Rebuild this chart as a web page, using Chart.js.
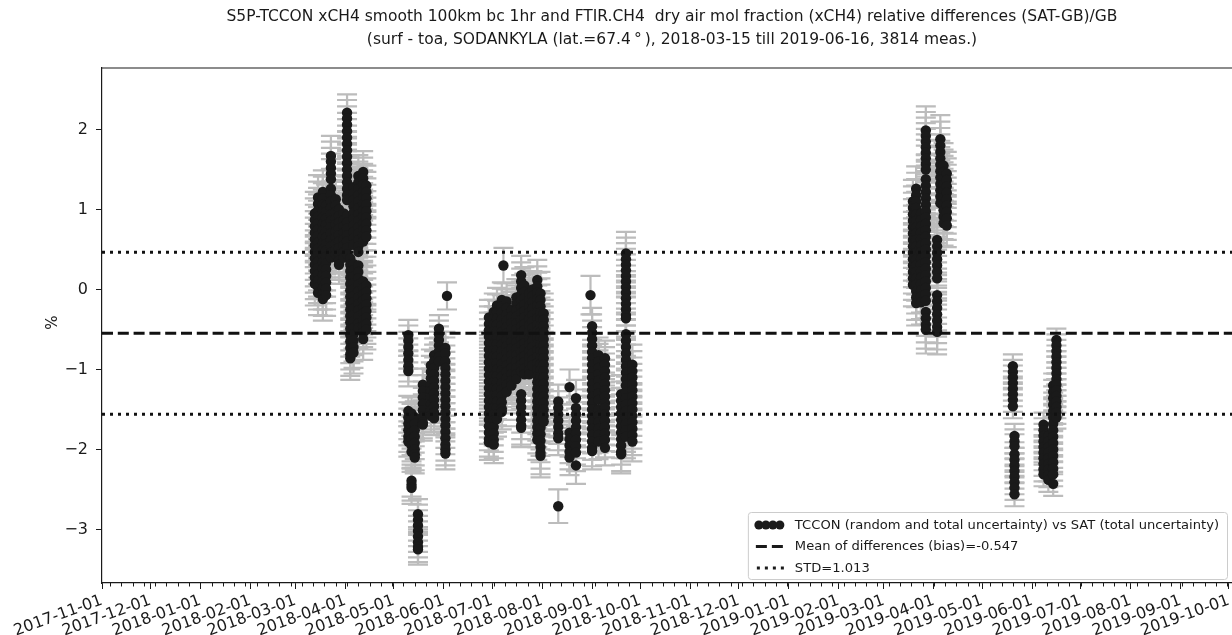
<!DOCTYPE html>
<html>
<head>
<meta charset="utf-8">
<script src="https://cdn.jsdelivr.net/npm/chart.js@4.4.0/dist/chart.umd.min.js"></script>
<style>
html,body{margin:0;padding:0;background:#ffffff;}
canvas{display:block;}
</style>
</head>
<body>
<canvas id="c" width="1232" height="635"></canvas>
<script>
// ---------------- data ----------------
const titleLines = [
  'S5P-TCCON xCH4 smooth 100km bc 1hr and FTIR.CH4  dry air mol fraction (xCH4) relative differences (SAT-GB)/GB',
  '(surf - toa, SODANKYLA (lat.=67.4\u2009°\u2009), 2018-03-15 till 2019-06-16, 3814 meas.)'
];
const yAxisTitle = '%';
const xTickLabels = ['2017-11-01','2017-12-01','2018-01-01','2018-02-01','2018-03-01','2018-04-01',
  '2018-05-01','2018-06-01','2018-07-01','2018-08-01','2018-09-01','2018-10-01','2018-11-01',
  '2018-12-01','2019-01-01','2019-02-01','2019-03-01','2019-04-01','2019-05-01','2019-06-01',
  '2019-07-01','2019-08-01','2019-09-01','2019-10-01'];
const yTickValues = [-3,-2,-1,0,1,2];
const yTickLabels = ['\u22123','\u22122','\u22121','0','1','2'];
const biasValue = -0.547;
const stdValue = 1.013;
const stdUpperValue = 0.466;
const stdLowerValue = -1.56;
const legendLabels = [
  'TCCON (random and total uncertainty) vs SAT (total uncertainty)',
  'Mean of differences (bias)=-0.547',
  'STD=1.013'
];

// observation dates (one entry per day column) and the values plotted on that day
const obsDates = [
  '2018-03-13','2018-03-15','2018-03-18','2018-03-20','2018-03-23','2018-03-26','2018-03-28',
  '2018-03-31','2018-04-02','2018-04-04','2018-04-06','2018-04-09','2018-04-12','2018-04-14',
  '2018-05-10','2018-05-12','2018-05-14','2018-05-16','2018-05-19','2018-05-24','2018-05-26',
  '2018-05-29','2018-06-02','2018-06-03',
  '2018-06-29','2018-07-02','2018-07-04','2018-07-07','2018-07-08','2018-07-10','2018-07-13',
  '2018-07-16','2018-07-19','2018-07-21','2018-07-24','2018-07-26','2018-07-29','2018-07-31',
  '2018-08-02',
  '2018-08-11','2018-08-18','2018-08-22','2018-08-31','2018-09-01','2018-09-05','2018-09-09',
  '2018-09-19','2018-09-22','2018-09-26',
  '2019-03-19','2019-03-21','2019-03-24','2019-03-27','2019-04-03','2019-04-05','2019-04-07',
  '2019-04-09',
  '2019-05-20','2019-05-21',
  '2019-06-08','2019-06-11','2019-06-14','2019-06-16'
];
const obsValues = [
  [0.95,0.87,0.79,0.71,0.63,0.55,0.47,0.39,0.31,0.23,0.15,0.07],
  [1.15,1.07,0.99,0.91,0.83,0.75,0.67,0.59,0.51,0.43,0.35,0.27,0.19,0.11,0.03,-0.04],
  [1.22,1.14,1.06,0.98,0.9,0.82,0.74,0.66,0.58,0.5,0.42,0.34,0.26,0.18,0.1,0.02,-0.06,-0.12],
  [1.05,0.97,0.89,0.81,0.73,0.65,0.57,0.49,0.41,0.33,0.25,0.17,0.09,0.01,-0.07],
  [1.67,1.6,1.52,1.45,1.38,1.26,1.18,1.1,1.02,0.94,0.86,0.78,0.7,0.62,0.54,0.46,0.4],
  [1.13,1.05,0.97,0.89,0.81,0.73,0.65,0.57,0.5,0.44],
  [1.0,0.92,0.84,0.76,0.68,0.6,0.52,0.44,0.36,0.31],
  [0.95,0.87,0.79,0.71,0.63,0.55,0.47,0.4],
  [2.21,2.14,2.06,1.98,1.9,1.82,1.74,1.66,1.58,1.5,1.42,1.34,1.26,1.18,1.12,0.92,0.84,0.76,0.68,0.6,0.52,0.44],
  [0.39,0.31,0.23,0.15,0.07,-0.01,-0.09,-0.17,-0.25,-0.33,-0.41,-0.49,-0.57,-0.65,-0.73,-0.81,-0.86],
  [1.28,1.2,1.12,1.04,0.96,0.88,0.8,0.72,0.64,0.56,0.32,0.24,0.16,0.08,0,-0.08,-0.16,-0.24,-0.32,-0.4,-0.48,-0.56,-0.64,-0.72,-0.79],
  [1.42,1.34,1.26,1.18,1.1,1.02,0.94,0.86,0.78,0.7,0.62,0.54,0.47,0.3,0.22,0.14,0.06,-0.02,-0.1,-0.18,-0.26,-0.34,-0.42,-0.48],
  [1.47,1.39,1.31,1.23,1.15,1.07,0.99,0.91,0.83,0.75,0.67,0.6,0.1,0.02,-0.06,-0.14,-0.22,-0.3,-0.38,-0.46,-0.54,-0.62],
  [1.3,1.22,1.14,1.06,0.98,0.9,0.82,0.74,0.66,0.05,-0.03,-0.11,-0.19,-0.27,-0.35,-0.43,-0.5],
  [-0.57,-0.64,-0.72,-0.8,-0.88,-0.96,-1.02,-1.52,-1.6,-1.68,-1.76,-1.84,-1.9],
  [-1.55,-1.63,-1.71,-1.79,-1.87,-1.95,-2.03,-2.39,-2.44,-2.48],
  [-1.6,-1.68,-1.76,-1.84,-1.92,-2.0,-2.06,-2.1],
  [-2.81,-2.88,-2.95,-3.02,-3.09,-3.16,-3.22,-3.25],
  [-1.19,-1.27,-1.35,-1.43,-1.51,-1.59,-1.66,-1.69],
  [-0.95,-1.03,-1.11,-1.19,-1.27,-1.35,-1.43,-1.51,-1.58],
  [-0.82,-0.9,-0.98,-1.06,-1.14,-1.22,-1.3,-1.38,-1.46,-1.54,-1.61],
  [-0.49,-0.56,-0.63,-0.7,-0.77,-0.84,-0.9],
  [-0.73,-0.8,-0.9,-0.98,-1.06,-1.14,-1.22,-1.3,-1.38,-1.46,-1.54,-1.62,-1.7,-1.78,-1.86,-1.94,-2.0,-2.05],
  [-0.08],
  [-0.35,-0.43,-0.51,-0.59,-0.67,-0.75,-0.83,-0.91,-0.99,-1.07,-1.15,-1.23,-1.31,-1.39,-1.47,-1.55,-1.63,-1.71,-1.79,-1.87,-1.91],
  [-0.28,-0.36,-0.44,-0.52,-0.6,-0.68,-0.76,-0.84,-0.92,-1.0,-1.08,-1.16,-1.24,-1.32,-1.4,-1.48,-1.56,-1.64,-1.72,-1.8,-1.88,-1.94],
  [-0.2,-0.28,-0.36,-0.44,-0.52,-0.6,-0.68,-0.76,-0.84,-0.92,-1.0,-1.08,-1.16,-1.24,-1.32,-1.4,-1.48,-1.56,-1.62],
  [-0.13,-0.21,-0.29,-0.37,-0.45,-0.53,-0.61,-0.69,-0.77,-0.85,-0.93,-1.01,-1.09,-1.17,-1.25,-1.33,-1.41,-1.49,-1.53],
  [0.30],
  [-0.15,-0.23,-0.31,-0.39,-0.47,-0.55,-0.63,-0.71,-0.79,-0.87,-0.95,-1.03,-1.11,-1.19,-1.28],
  [-0.26,-0.34,-0.42,-0.5,-0.58,-0.66,-0.74,-0.82,-0.9,-0.98,-1.06,-1.14,-1.2],
  [-0.1,-0.18,-0.26,-0.34,-0.42,-0.5,-0.58,-0.66,-0.74,-0.82,-0.9,-0.98,-1.06,-1.12],
  [0.18,0.1,0.02,-0.06,-0.14,-0.22,-0.3,-0.38,-0.46,-0.54,-0.62,-0.7,-0.78,-0.86,-0.94,-1.02,-1.31,-1.39,-1.47,-1.55,-1.63,-1.7,-1.73],
  [0.05,-0.03,-0.11,-0.19,-0.27,-0.35,-0.43,-0.51,-0.59,-0.67,-0.75,-0.83,-0.91,-0.99,-1.06],
  [-0.05,-0.13,-0.21,-0.29,-0.37,-0.45,-0.53,-0.61,-0.69,-0.77,-0.85,-0.93,-1.01,-1.06],
  [0.0,-0.08,-0.16,-0.24,-0.32,-0.4,-0.48,-0.56,-0.64,-0.72,-0.8,-0.88,-0.95],
  [0.12,0.04,-0.04,-0.12,-0.2,-0.28,-0.36,-0.44,-0.52,-0.6,-0.68,-0.76,-0.84,-0.92,-1.0,-1.08,-1.16,-1.24,-1.32,-1.4,-1.48,-1.56,-1.64,-1.72,-1.8,-1.88],
  [-0.05,-0.13,-0.21,-0.29,-0.37,-0.45,-0.53,-0.61,-0.69,-0.77,-0.85,-0.93,-1.01,-1.09,-1.17,-1.25,-1.33,-1.41,-1.49,-1.57,-1.65,-1.73,-1.81,-1.89,-1.97,-2.04,-2.08],
  [-0.3,-0.38,-0.46,-0.54,-0.62,-0.7,-0.78,-0.86,-0.94,-1.02,-1.1,-1.18,-1.26,-1.34,-1.42,-1.5,-1.58,-1.65],
  [-1.4,-1.48,-1.56,-1.64,-1.72,-1.8,-1.86,-2.71],
  [-1.22,-1.79,-1.87,-1.95,-2.03,-2.1],
  [-1.36,-1.48,-1.56,-1.64,-1.72,-1.8,-1.88,-1.96,-2.04,-2.2],
  [-0.07],
  [-0.46,-0.54,-0.62,-0.7,-0.78,-0.86,-0.94,-1.02,-1.1,-1.18,-1.26,-1.34,-1.42,-1.5,-1.58,-1.66,-1.74,-1.82,-1.9,-1.98,-2.02],
  [-0.82,-0.9,-0.98,-1.06,-1.14,-1.22,-1.3,-1.38,-1.5,-1.58,-1.66,-1.74,-1.82,-1.9],
  [-0.86,-0.94,-1.02,-1.1,-1.18,-1.26,-1.34,-1.42,-1.48,-1.56,-1.64,-1.72,-1.8,-1.88,-1.98],
  [-1.31,-1.39,-1.47,-1.55,-1.63,-1.71,-1.79,-1.87,-1.95,-2.03,-2.06],
  [0.45,0.38,0.31,0.24,0.17,0.1,0.03,-0.04,-0.11,-0.18,-0.25,-0.32,-0.36,-0.56,-0.64,-0.72,-0.8,-0.88,-0.96,-1.04,-1.12,-1.2,-1.28,-1.36,-1.44,-1.52,-1.6,-1.68,-1.76,-1.84],
  [-0.94,-1.02,-1.1,-1.18,-1.26,-1.34,-1.42,-1.5,-1.58,-1.66,-1.74,-1.82,-1.9],
  [1.1,1.02,0.94,0.86,0.78,0.7,0.62,0.54,0.46,0.38,0.3,0.22,0.14,0.06],
  [1.26,1.18,1.1,1.02,0.94,0.86,0.78,0.7,0.62,0.54,0.46,0.38,0.3,0.22,0.14,0.06,-0.02,-0.1,-0.17],
  [0.95,0.87,0.79,0.71,0.63,0.55,0.47,0.39,0.31,0.23,0.15,0.07,-0.01,-0.09,-0.16],
  [1.99,1.92,1.85,1.78,1.71,1.64,1.57,1.5,1.38,1.3,1.22,1.14,1.06,0.98,0.9,0.82,0.74,0.66,0.58,0.5,0.42,0.34,0.26,0.18,0.1,0.02,-0.06,-0.14,-0.28,-0.36,-0.44,-0.5],
  [0.62,0.54,0.46,0.38,0.3,0.22,0.14,-0.07,-0.15,-0.23,-0.31,-0.39,-0.47,-0.53],
  [1.88,1.8,1.72,1.64,1.56,1.48,1.4,1.32,1.24,1.16,1.08],
  [1.55,1.47,1.39,1.31,1.23,1.15,1.07,0.99,0.91,0.83],
  [1.45,1.37,1.29,1.21,1.13,1.05,0.97,0.89,0.8],
  [-0.96,-1.03,-1.1,-1.17,-1.24,-1.31,-1.38,-1.46],
  [-1.83,-1.9,-1.96,-2.06,-2.13,-2.2,-2.27,-2.34,-2.41,-2.48,-2.56],
  [-1.69,-1.76,-1.83,-1.9,-1.97,-2.04,-2.11,-2.18,-2.25,-2.31],
  [-1.83,-1.9,-1.97,-2.04,-2.11,-2.18,-2.25,-2.32,-2.38],
  [-1.2,-1.28,-1.36,-1.44,-1.52,-1.6,-1.68,-1.76,-1.84,-1.92,-2.0,-2.08,-2.16,-2.24,-2.31,-2.43],
  [-0.63,-0.7,-0.77,-0.84,-0.91,-0.98,-1.05,-1.12,-1.19,-1.26,-1.33,-1.4,-1.47,-1.54,-1.6]
];
// total-uncertainty half-length of the error bars for each day column (%)
const obsErrors = [
  0.27,0.28,0.27,0.26,0.25,0.24,0.24,0.25,0.23,0.27,0.26,0.26,0.26,0.25,
  0.19,0.20,0.20,0.19,0.20,0.20,0.21,0.17,0.20,0.17,
  0.22,0.23,0.22,0.22,0.22,0.23,0.23,0.23,0.24,0.23,0.24,0.23,0.25,0.27,0.25,
  0.21,0.22,0.23,0.24,0.23,0.22,0.22,
  0.24,0.27,0.25,
  0.27,0.28,0.28,0.30,0.28,0.30,0.28,0.27,
  0.15,0.15,
  0.15,0.15,0.15,0.14
];
const xStart = '2017-11-01';
const xEnd = '2019-10-02T22:00:00Z';

// ---------------- build chart ----------------
const toTime = s => Date.parse(s.length === 10 ? s + 'T00:00:00Z' : s);
const xMin = toTime(xStart), xMax = toTime(xEnd);
const xTickValues = xTickLabels.map(toTime);
const points = [];
obsDates.forEach((d, i) => {
  obsValues[i].forEach(v => points.push({ x: toTime(d), y: v, err: obsErrors[i] }));
});

const FONT = 'DejaVu Sans';
Chart.defaults.font.family = FONT;
Chart.defaults.color = '#1a1a1a';

const errorBarPlugin = {
  id: 'errorBars',
  beforeDatasetsDraw(chart) {
    const ctx = chart.ctx, xs = chart.scales.x, ys = chart.scales.y, a = chart.chartArea;
    ctx.save();
    ctx.beginPath(); ctx.rect(a.left, a.top, a.right - a.left, a.bottom - a.top); ctx.clip();
    ctx.strokeStyle = '#bcbcbc';
    ctx.lineWidth = 2.2;
    const cap = 10;
    points.forEach(p => {
      const px = xs.getPixelForValue(p.x);
      const y1 = ys.getPixelForValue(p.y + p.err);
      const y2 = ys.getPixelForValue(p.y - p.err);
      ctx.beginPath();
      ctx.moveTo(px, y1); ctx.lineTo(px, y2);
      ctx.moveTo(px - cap, y1); ctx.lineTo(px + cap, y1);
      ctx.moveTo(px - cap, y2); ctx.lineTo(px + cap, y2);
      ctx.stroke();
    });
    ctx.restore();
  }
};

const decorPlugin = {
  id: 'decor',
  afterDraw(chart) {
    const ctx = chart.ctx, a = chart.chartArea, xs = chart.scales.x;
    ctx.save();
    // top spine
    ctx.strokeStyle = '#1a1a1a'; ctx.lineWidth = 1.2;
    ctx.beginPath(); ctx.moveTo(a.left, a.top); ctx.lineTo(a.right, a.top); ctx.stroke();
    // weekly minor ticks (Mondays)
    ctx.lineWidth = 1;
    let t = toTime('2017-11-06');
    while (t <= xMax) {
      const px = Math.round(xs.getPixelForValue(t)) + 0.5;
      ctx.beginPath(); ctx.moveTo(px, a.bottom); ctx.lineTo(px, a.bottom + 3.5); ctx.stroke();
      t += 7 * 86400000;
    }
    // title
    ctx.fillStyle = '#1a1a1a';
    ctx.font = '15.5px "' + FONT + '"';
    ctx.textAlign = 'center'; ctx.textBaseline = 'middle';
    const tcx = 672;
    ctx.fillText(titleLines[0], tcx, 17);
    ctx.fillText(titleLines[1], tcx, 40);
    // y axis title
    ctx.save();
    ctx.translate(53, (a.top + a.bottom) / 2 - 3);
    ctx.rotate(-Math.PI / 2);
    ctx.font = '15px "' + FONT + '"';
    ctx.fillText(yAxisTitle, 0, 0);
    ctx.restore();
    // legend
    ctx.font = '13.1px "' + FONT + '"';
    const tw = Math.max(...legendLabels.map(s => ctx.measureText(s).width));
    const bw = 47 + tw + 8, bh = 67;
    const bx = a.right - 5 - bw, by = a.bottom - 4 - bh;
    ctx.fillStyle = 'rgba(255,255,255,0.85)';
    ctx.strokeStyle = '#cccccc'; ctx.lineWidth = 1;
    ctx.beginPath();
    if (ctx.roundRect) ctx.roundRect(bx + 0.5, by + 0.5, bw, bh, 3); else ctx.rect(bx + 0.5, by + 0.5, bw, bh);
    ctx.fill(); ctx.stroke();
    const rows = [by + 13, by + 34.5, by + 56];
    ctx.fillStyle = '#1a1a1a';
    [11, 18, 25, 32].forEach(dx => {
      ctx.beginPath(); ctx.arc(bx + dx, rows[0], 4.5, 0, Math.PI * 2); ctx.fill();
    });
    ctx.strokeStyle = '#1a1a1a'; ctx.lineWidth = 3;
    ctx.setLineDash([11, 5]);
    ctx.beginPath(); ctx.moveTo(bx + 8, rows[1]); ctx.lineTo(bx + 36, rows[1]); ctx.stroke();
    ctx.setLineDash([3, 5]);
    ctx.beginPath(); ctx.moveTo(bx + 9, rows[2]); ctx.lineTo(bx + 36, rows[2]); ctx.stroke();
    ctx.setLineDash([]);
    ctx.textAlign = 'left'; ctx.textBaseline = 'middle';
    legendLabels.forEach((s, i) => ctx.fillText(s, bx + 47, rows[i] + 0.5));
    ctx.restore();
  }
};

const hLine = (y, dash) => ({
  type: 'line',
  data: [{ x: xMin, y: y }, { x: xMax, y: y }],
  borderColor: '#111111', borderWidth: 3, borderDash: dash,
  pointRadius: 0, fill: false, order: 0, tension: 0
});

new Chart(document.getElementById('c'), {
  type: 'scatter',
  data: {
    datasets: [
      hLine(biasValue, [11, 4.8]),
      hLine(stdUpperValue, [3, 5]),
      hLine(stdLowerValue, [3, 5]),
      {
        type: 'scatter', label: legendLabels[0], data: points,
        backgroundColor: '#1a1a1a', borderWidth: 0, pointRadius: 5.2, pointHoverRadius: 5.2, order: 1
      }
    ]
  },
  options: {
    responsive: false, animation: false, devicePixelRatio: 1,
    layout: { autoPadding: false, padding: { top: 68, left: 0, right: 0, bottom: 0 } },
    plugins: { legend: { display: false }, tooltip: { enabled: false }, title: { display: false } },
    scales: {
      x: {
        type: 'linear', min: xMin, max: xMax,
        afterBuildTicks: s => { s.ticks = xTickValues.map(v => ({ value: v })); },
        afterFit: s => { s.height = 52; s.paddingLeft = 0; s.paddingRight = 0; },
        ticks: {
          autoSkip: false, minRotation: 20, maxRotation: 20, padding: 2,
          font: { family: FONT, size: 16 }, color: '#1a1a1a',
          callback: v => xTickLabels[xTickValues.indexOf(v)]
        },
        grid: { display: true, drawOnChartArea: false, drawTicks: true, tickLength: 6, tickWidth: 1, color: '#1a1a1a' },
        border: { display: true, color: '#1a1a1a', width: 1.2 }
      },
      y: {
        type: 'linear', min: -3.67, max: 2.77,
        afterBuildTicks: s => { s.ticks = yTickValues.map(v => ({ value: v })); },
        afterFit: s => { s.width = 102; },
        ticks: {
          padding: 8, font: { family: FONT, size: 16 }, color: '#1a1a1a',
          callback: v => yTickLabels[yTickValues.indexOf(v)]
        },
        grid: { display: true, drawOnChartArea: false, drawTicks: true, tickLength: 6, tickWidth: 1, color: '#1a1a1a' },
        border: { display: true, color: '#1a1a1a', width: 1.2 }
      }
    }
  },
  plugins: [errorBarPlugin, decorPlugin]
});
</script>
</body>
</html>
